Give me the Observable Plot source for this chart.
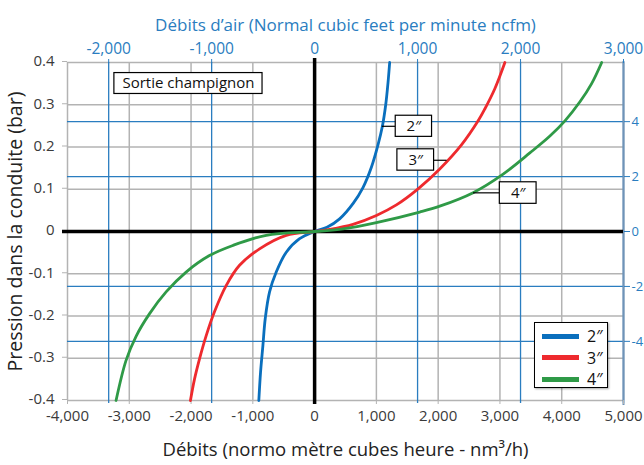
<!DOCTYPE html>
<html>
<head>
<meta charset="utf-8">
<script src="https://cdn.jsdelivr.net/npm/d3@7"></script>
<script src="https://cdn.jsdelivr.net/npm/@observablehq/plot@0.6"></script>
<style>
  html, body { margin: 0; padding: 0; background: #fff; }
  #wrap { position: relative; width: 644px; height: 465px; overflow: hidden; font-family: "Open Sans", sans-serif; }
  #legend { position: absolute; left: 534px; top: 322px; width: 72px; height: 64px; border: 1.5px solid #000; background: #fff; box-shadow: 1px 1px 2px rgba(0,0,0,0.35); }
  .li { position: absolute; left: 7px; height: 20px; display: flex; align-items: center; }
  .sw { width: 37px; height: 5px; margin-right: 8px; }
  .lt { font-size: 16px; color: #111; }
</style>
</head>
<body>
<div id="wrap"></div>
<script>
// ---- Data ----
const seriesNames = ["2″", "3″", "4″"];
const seriesColors = ["#0a6fbd", "#ee2a2e", "#2f9a47"];

const flow2in = [-903, -875, -837, -799, -729, -621, -459, -243, 0, 200, 405, 621, 783, 919, 1026, 1097, 1151, 1188, 1215];
const pres2in = [-0.4, -0.333, -0.27, -0.206, -0.143, -0.096, -0.049, -0.017, 0, 0.01, 0.03, 0.066, 0.104, 0.152, 0.205, 0.249, 0.3, 0.352, 0.4];

const flow3in = [-2010, -1945, -1864, -1756, -1621, -1432, -1215, -891, -459, 0, 243, 621, 1000, 1324, 1675, 2026, 2377, 2647, 2755, 2917, 3080];
const pres3in = [-0.4, -0.35, -0.302, -0.247, -0.19, -0.128, -0.08, -0.041, -0.009, 0, 0.005, 0.017, 0.038, 0.063, 0.101, 0.148, 0.205, 0.262, 0.29, 0.338, 0.4];

const flow4in = [-3214, -3052, -2890, -2674, -2404, -2080, -1702, -1324, -783, 0, 459, 1000, 1702, 2026, 2566, 3052, 3484, 3809, 4052, 4295, 4484, 4647];
const pres4in = [-0.4, -0.305, -0.248, -0.195, -0.143, -0.096, -0.057, -0.033, -0.009, 0, 0.006, 0.021, 0.046, 0.06, 0.092, 0.136, 0.186, 0.226, 0.262, 0.307, 0.35, 0.4];

const xTicks = [-4000, -3000, -2000, -1000, 0, 1000, 2000, 3000, 4000, 5000];
const yTicks = [-0.4, -0.3, -0.2, -0.1, 0, 0.1, 0.2, 0.3, 0.4];
const topTicks = [-2000, -1000, 0, 1000, 2000, 3000];   // ncfm
const rightTicks = [-4, -2, 0, 2, 4];                  // secondary pressure units
const nm3PerNcfm = 5 / 3;
const barPerUnit = 0.065;

const titleText = "Débits d’air (Normal cubic feet per minute ncfm)";
const xLabel = "Débits (normo mètre cubes heure - nm³/h)";
const yLabel = "Pression dans la conduite (bar)";

// annotation boxes (data space)
const annoLabels = ["Sortie champignon", "2″", "3″", "4″"];
const annoX1 = [-3241, 1313, 1340, 2998];
const annoX2 = [-843, 1901, 1934, 3593];
const annoY1 = [0.3255, 0.224, 0.144, 0.0655];
const annoY2 = [0.375, 0.274, 0.1946, 0.1165];
const leaderX1 = [null, 1097, 1934, 2572];
const leaderX2 = [null, 1313, 2144, 2998];
const leaderY = [null, 0.249, 0.1686, 0.0915];

// ---- Build tables ----
const flows = [flow2in, flow3in, flow4in];
const pres = [pres2in, pres3in, pres4in];
const curves = seriesNames.flatMap((s, i) => flows[i].map((x, j) => ({series: s, x, y: pres[i][j]})));
const annos = annoLabels.map((t, i) => ({t, x1: annoX1[i], x2: annoX2[i], y1: annoY1[i], y2: annoY2[i], cx: (annoX1[i] + annoX2[i]) / 2, cy: (annoY1[i] + annoY2[i]) / 2}));
const leaders = leaderX1.map((x1, i) => ({x1, x2: leaderX2[i], y: leaderY[i]})).filter(d => d.x1 != null);

const fmtInt = d => Math.round(d).toLocaleString("en-US");
const fmtY = d => Math.abs(d) < 1e-9 ? "0" : d.toFixed(1);
const blue = "#2a7dc0";
const gridGray = "#b3b3b3";
const textGray = "#3a3a3a";

const chart = Plot.plot({
  width: 644,
  height: 465,
  marginLeft: 67,
  marginRight: 21,
  marginTop: 62,
  marginBottom: 65,
  style: {fontFamily: "Open Sans, sans-serif", fontSize: "15px", background: "#fff", overflow: "visible"},
  x: {domain: [-4000, 5000]},
  y: {domain: [-0.4, 0.4]},
  color: {domain: seriesNames, range: seriesColors},
  marks: [
    Plot.gridX({ticks: xTicks, stroke: gridGray, strokeOpacity: 1, strokeWidth: 1.5}),
    Plot.gridY({ticks: yTicks, stroke: gridGray, strokeOpacity: 1, strokeWidth: 1.5}),
    Plot.ruleX(topTicks.map(t => t * nm3PerNcfm), {stroke: blue, strokeWidth: 1.3, insetBottom: -3}),
    Plot.ruleY(rightTicks.filter(t => t !== 0).map(t => t * barPerUnit), {stroke: blue, strokeWidth: 1.3}),
    Plot.ruleX([5000], {stroke: "#6f93b8", strokeWidth: 2, insetTop: -1, insetBottom: -5}),
    Plot.axisX({anchor: "bottom", ticks: xTicks, tickFormat: fmtInt, tickSize: 4, tickPadding: 6, stroke: gridGray, fill: textGray, fontSize: 15, label: null}),
    Plot.axisX({anchor: "top", ticks: topTicks.map(t => t * nm3PerNcfm), tickFormat: d => fmtInt(d / nm3PerNcfm), tickSize: 4, tickPadding: 5, stroke: blue, fill: blue, fontSize: 15.5, label: null}),
    Plot.axisY({anchor: "left", ticks: yTicks, tickFormat: fmtY, tickSize: 5, tickPadding: 8, stroke: gridGray, fill: textGray, fontSize: 15, label: null, dy: -1}),
    Plot.axisY({anchor: "right", ticks: rightTicks.map(t => t * barPerUnit), tickFormat: d => fmtInt(d / barPerUnit), tickSize: 6, tickPadding: 2, stroke: blue, fill: blue, fontSize: 13, label: null, textAnchor: "start"}),
    Plot.ruleY([0], {stroke: "#000", strokeWidth: 3.5, insetLeft: -5}),
    Plot.ruleX([0], {stroke: "#000", strokeWidth: 3.5, insetTop: -4, insetBottom: -4}),
    Plot.line(curves, {x: "x", y: "y", z: "series", stroke: "series", strokeWidth: 2.8, curve: "catmull-rom"}),
    Plot.ruleY(leaders, {x1: "x1", x2: "x2", y: "y", stroke: "#000", strokeWidth: 1.2}),
    Plot.rect(annos, {x1: "x1", x2: "x2", y1: "y1", y2: "y2", fill: "#fff", stroke: "#000", strokeWidth: 1.2}),
    Plot.text(annos, {x: "cx", y: "cy", text: "t", fill: "#111", fontSize: 15}),
    Plot.text([titleText], {frameAnchor: "top", dy: -44, fill: blue, fontSize: 17}),
    Plot.text([xLabel], {frameAnchor: "bottom", dy: 55, fill: "#222", fontSize: 18.5}),
    Plot.text([yLabel], {frameAnchor: "left", textAnchor: "middle", dx: -52, rotate: -90, fill: "#222", fontSize: 19.5})
  ]
});

const wrap = document.getElementById("wrap");
wrap.appendChild(chart);

const legend = document.createElement("div");
legend.id = "legend";
seriesNames.forEach((s, i) => {
  const item = document.createElement("div");
  item.className = "li";
  item.style.top = (3 + i * 21.5) + "px";
  item.innerHTML = `<div class="sw" style="background:${seriesColors[i]}"></div><span class="lt">${s}</span>`;
  legend.appendChild(item);
});
wrap.appendChild(legend);
</script>
</body>
</html>
